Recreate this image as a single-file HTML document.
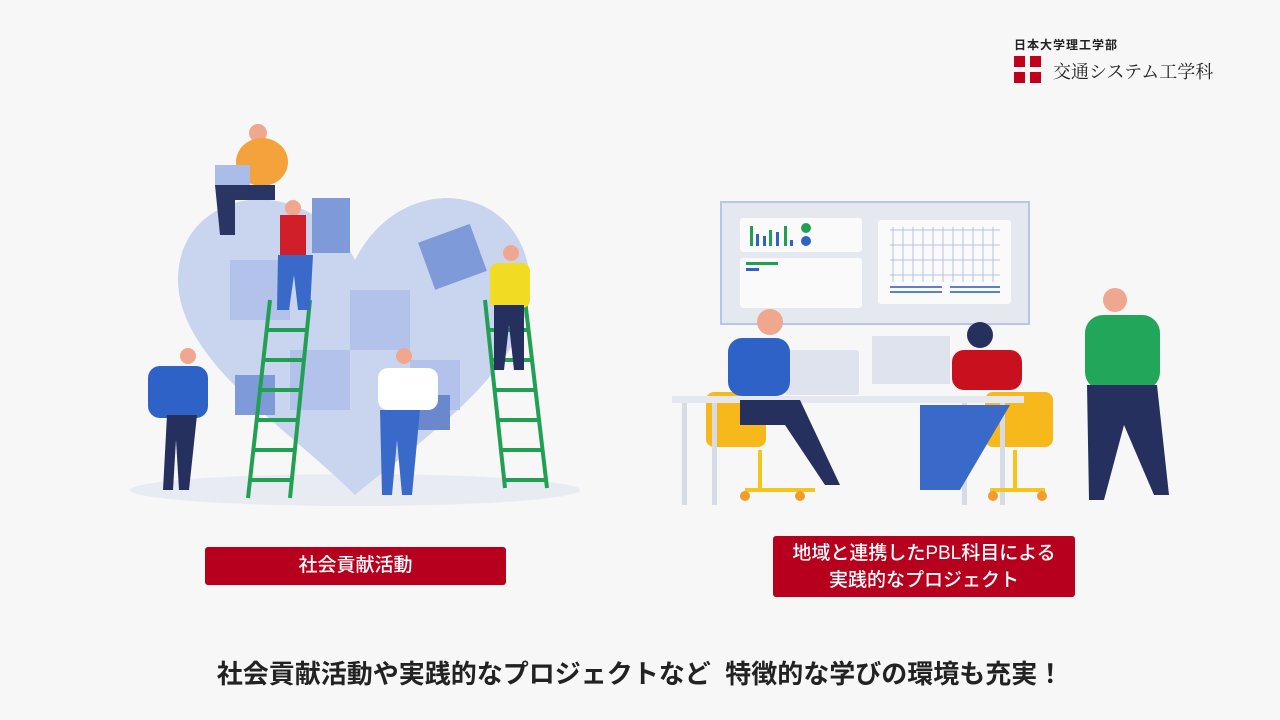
<!DOCTYPE html>
<html><head><meta charset="utf-8"><style>
body{margin:0;width:1280px;height:720px;background:#f7f7f7;overflow:hidden;position:relative;font-family:"Liberation Sans","Noto Sans CJK JP",sans-serif}
.lbl{position:absolute;background:#b7001e;color:#fff;text-align:center;border-radius:3px;font-size:19px;font-weight:500}
</style></head><body>
<div style="position:absolute;left:1014px;top:36px;font-size:12px;font-weight:bold;color:#222;letter-spacing:1px">日本大学理工学部</div>
<div style="position:absolute;left:1014px;top:56px;width:11px;height:11px;background:#c0001f"></div>
<div style="position:absolute;left:1030px;top:56px;width:11px;height:11px;background:#c0001f"></div>
<div style="position:absolute;left:1014px;top:72px;width:11px;height:11px;background:#c0001f"></div>
<div style="position:absolute;left:1030px;top:72px;width:11px;height:11px;background:#c0001f"></div>
<div style="position:absolute;left:1053px;top:58px;font-size:18px;font-family:'Noto Serif CJK SC',serif;color:#222">交通システム工学科</div>

<svg width="1280" height="720" style="position:absolute;left:0;top:0">
<ellipse cx="355" cy="490" rx="225" ry="16" fill="#e9ebf2"/>
<path d="M355 495 C290 430 178 360 178 280 C178 220 230 195 270 200 C310 205 340 230 355 260 C370 230 400 200 445 198 C500 198 530 240 530 285 C530 370 420 440 355 495Z" fill="#c9d4ef"/>
<path d="M230 260h60v60h-60zM350 290h60v60h-60zM290 350h60v60h-60zM410 360h50v50h-50z" fill="#b2c2ea"/>
<rect x="425" y="232" width="55" height="50" fill="#7e9ad8" transform="rotate(-20 452 257)"/>
<rect x="312" y="198" width="38" height="55" fill="#7e9ad8"/>
<rect x="235" y="375" width="40" height="40" fill="#7e9ad8"/>
<rect x="405" y="395" width="45" height="35" fill="#6b88cc"/>
<g stroke="#21a053" stroke-width="4"><line x1="270" y1="300" x2="248" y2="498"/><line x1="310" y1="300" x2="290" y2="498"/>
<line x1="265" y1="330" x2="306" y2="330"/><line x1="262" y1="360" x2="303" y2="360"/><line x1="258" y1="390" x2="300" y2="390"/><line x1="255" y1="420" x2="297" y2="420"/><line x1="252" y1="450" x2="294" y2="450"/><line x1="249" y1="480" x2="291" y2="480"/>
<line x1="485" y1="300" x2="505" y2="488"/><line x1="525" y1="300" x2="547" y2="488"/>
<line x1="488" y1="330" x2="528" y2="330"/><line x1="491" y1="360" x2="531" y2="360"/><line x1="494" y1="390" x2="534" y2="390"/><line x1="497" y1="420" x2="538" y2="420"/><line x1="500" y1="450" x2="541" y2="450"/><line x1="503" y1="480" x2="545" y2="480"/></g>
<circle cx="258" cy="133" r="9" fill="#f0a78f"/><ellipse cx="262" cy="162" rx="26" ry="24" fill="#f4a33c"/><rect x="215" y="165" width="35" height="22" fill="#a9bde8"/><path d="M215 185h60v15h-40v35h-15z" fill="#2b3563"/>
<circle cx="293" cy="208" r="8" fill="#f0a78f"/><rect x="280" y="215" width="26" height="40" fill="#d11f2a"/><path d="M278 255h35l-3 55h-12l-4-35-5 35h-12z" fill="#3a6ac9"/>
<circle cx="188" cy="356" r="8" fill="#f0a78f"/><rect x="148" y="366" width="60" height="52" rx="12" fill="#2f62c6"/><path d="M167 415h30l-8 75h-10l-3-50-3 50h-10z" fill="#26305e"/>
<circle cx="404" cy="356" r="8" fill="#f0a78f"/><rect x="378" y="368" width="60" height="42" rx="10" fill="#fff"/><path d="M380 410h40l-8 85h-10l-5-55-5 55h-10z" fill="#3a6ac9"/>
<circle cx="511" cy="253" r="8" fill="#f0a78f"/><rect x="490" y="263" width="40" height="45" rx="8" fill="#f1dc23"/><path d="M494 305h30v65h-10l-5-45-5 45h-10z" fill="#26305e"/>
<rect x="721" y="202" width="308" height="122" fill="#e6e8f0" stroke="#b8c6e6" stroke-width="2"/>
<rect x="740" y="218" width="122" height="34" rx="3" fill="#fafafa"/><rect x="740" y="258" width="122" height="50" rx="3" fill="#fafafa"/>
<rect x="878" y="220" width="133" height="84" rx="3" fill="#fafafa"/>
<g fill="#21a053"><rect x="750" y="226" width="3" height="20"/><rect x="769" y="230" width="3" height="16"/><rect x="784" y="226" width="3" height="20"/></g>
<g fill="#2f62c6"><rect x="756" y="234" width="3" height="12"/><rect x="763" y="236" width="3" height="10"/><rect x="776" y="232" width="3" height="14"/><rect x="790" y="240" width="3" height="6"/></g>
<circle cx="806" cy="228" r="5" fill="#21a053"/><circle cx="806" cy="241" r="5" fill="#2f62c6"/>
<rect x="746" y="262" width="32" height="3" fill="#21a053"/><rect x="746" y="268" width="13" height="3" fill="#2f62c6"/>
<g stroke="#b5c1df" stroke-width="1"><path d="M890 230h110M890 245h110M890 260h110M890 275h110"/><path d="M893 227v55M903 227v55M913 227v55M923 227v55M933 227v55M943 227v55M953 227v55M963 227v55M973 227v55M983 227v55M993 227v55"/></g>
<g fill="#5d80cc"><rect x="890" y="286" width="52" height="2"/><rect x="890" y="291" width="52" height="2"/><rect x="950" y="286" width="50" height="2"/><rect x="950" y="291" width="50" height="2"/></g>
<rect x="706" y="392" width="60" height="55" rx="8" fill="#f6b81b"/><rect x="985" y="392" width="68" height="55" rx="8" fill="#f6b81b"/>
<rect x="672" y="396" width="352" height="7" fill="#e5e8f0"/>
<rect x="682" y="403" width="5" height="102" fill="#d6dbe6"/><rect x="712" y="403" width="5" height="102" fill="#d6dbe6"/><rect x="962" y="403" width="5" height="102" fill="#d6dbe6"/><rect x="1000" y="403" width="5" height="102" fill="#d6dbe6"/>
<rect x="785" y="350" width="74" height="45" rx="3" fill="#dfe3ee"/><rect x="872" y="336" width="78" height="48" fill="#dfe3ee"/>
<path d="M745 490h70M990 490h55M760 450v40M1015 450v40" stroke="#f6c51b" stroke-width="4"/>
<circle cx="745" cy="496" r="5" fill="#f49b2b"/><circle cx="800" cy="496" r="5" fill="#f49b2b"/><circle cx="993" cy="496" r="5" fill="#f49b2b"/><circle cx="1042" cy="496" r="5" fill="#f49b2b"/>
<circle cx="770" cy="322" r="13" fill="#f0a78f"/><rect x="728" y="338" width="62" height="58" rx="14" fill="#2f62c6"/><path d="M740 400h60l40 85h-15l-40-60h-45z" fill="#26305e"/>
<circle cx="980" cy="335" r="13" fill="#26305e"/><rect x="952" y="350" width="70" height="40" rx="12" fill="#c8101e"/><path d="M920 405h90l-50 85h-40z" fill="#3a6ac9"/>
<circle cx="1115" cy="300" r="12" fill="#f0a78f"/><rect x="1085" y="315" width="75" height="75" rx="18" fill="#22a75a"/><path d="M1087 385h70l12 110h-15l-30-70-20 75h-15z" fill="#26305e"/>
</svg>

<div class="lbl" style="left:205px;top:547px;width:301px;height:38px;line-height:38px">社会貢献活動</div>
<div class="lbl" style="left:773px;top:536px;width:302px;height:61px;line-height:27px;padding-top:4px;box-sizing:border-box">地域と連携したPBL科目による<br>実践的なプロジェクト</div>
<div style="position:absolute;left:0;width:1280px;top:654px;text-align:center;font-size:26px;font-weight:bold;color:#222">社会貢献活動や実践的なプロジェクトなど&nbsp; 特徴的な学びの環境も充実！</div>
</body></html>
